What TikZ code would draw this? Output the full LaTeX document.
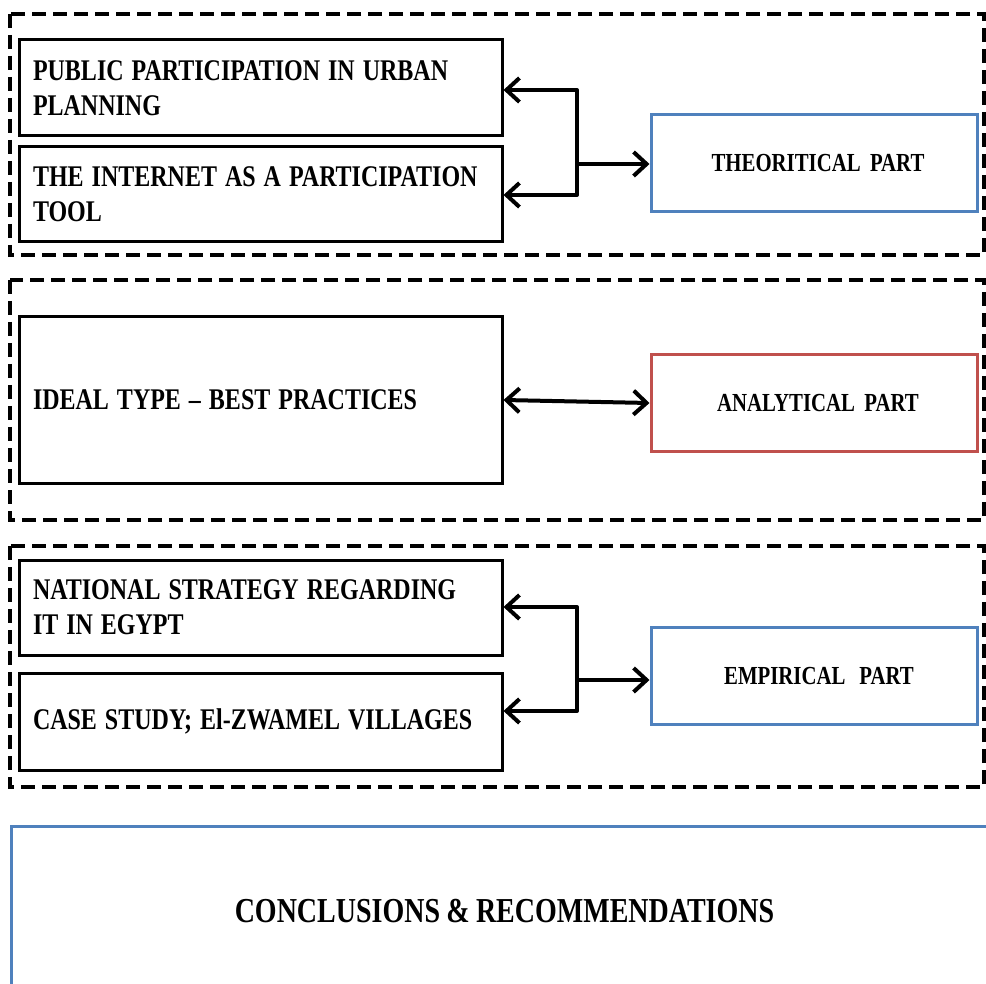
\documentclass[tikz,border=0pt]{standalone}
\usepackage{fontspec}
\newfontfamily\lbl{Liberation Serif}[FakeStretch=0.8, WordSpace=0.9, Ligatures=TeX]
\usetikzlibrary{arrows.meta}
\definecolor{partblue}{HTML}{4F81BD}
\definecolor{partred}{HTML}{C0504D}

\begin{document}
\begin{tikzpicture}[x=1pt,y=-1pt,
  >={Straight Barb[length=13pt,width=24pt]},
  group/.style={draw=black, line width=4.5pt, dash pattern=on 14pt off 7pt},
  topic/.style={draw=black, line width=3pt, minimum width=483pt, text width=455pt,
    inner xsep=14pt, inner ysep=0pt, align=left,
    font=\lbl\bfseries\fontsize{30}{35}\selectfont,
    execute at begin node={\spaceskip=8pt\relax}},
  part/.style={draw=#1, line width=3pt, minimum width=326pt, minimum height=97pt,
    inner sep=0pt, font=\lbl\bfseries\fontsize{26}{30}\selectfont},
  link/.style={line width=4pt, ->, line join=round}
]
\useasboundingbox (0,0) rectangle (986,984);
\clip (0,0) rectangle (986,984);

% dashed group frames
\draw[group] (10,14) rectangle (984,255);
\draw[group] (10,280) rectangle (984,520);
\draw[group] (10,546) rectangle (984,787);

% topic boxes
\node[topic, minimum height=96pt] (b1) at (260.5,88)
  {PUBLIC PARTICIPATION IN URBAN\\PLANNING};
\node[topic, minimum height=95pt] (b2) at (260.5,194.5)
  {THE INTERNET AS A PARTICIPATION\\TOOL};
\node[topic, minimum height=166pt] (b3) at (260.5,400)
  {IDEAL TYPE – BEST PRACTICES};
\node[topic, minimum height=95pt] (b4) at (260.5,607.5)
  {NATIONAL STRATEGY REGARDING\\IT IN EGYPT};
\node[topic, minimum height=97pt] (b5) at (260.5,721.5)
  {CASE STUDY; El-ZWAMEL VILLAGES};

% part boxes
\node[part=partblue] (th) at (814,163.5) {\kern8pt THEORITICAL\ \ PART};
\node[part=partred] (an) at (814,403) {\kern8pt ANALYTICAL\ \ PART};
\node[part=partblue] (em) at (814,676) {\kern10pt EMPIRICAL\ \ \ PART};

% conclusions box
\node[draw=partblue, line width=3pt, anchor=north west, minimum width=990pt,
  minimum height=170pt, inner sep=0pt,
  font=\lbl\bfseries\fontsize{35}{40}\selectfont] (co) at (10,825)
  {\kern-4pt CONCLUSIONS \& RECOMMENDATIONS};

% theoretical part connectors
\coordinate (j1) at (577,164);
\coordinate (t1) at (577,90);
\coordinate (t2) at (577,195);
\draw[link] (j1) |- (t1 -| b1.east);
\draw[link] (j1) |- (t2 -| b2.east);
\draw[link] (j1) -- (j1 -| th.west);

% analytical part connector
\draw[link, <->] (b3.east) -- (an.west);

% empirical part connectors
\coordinate (j3) at (577,680);
\coordinate (t4) at (577,607);
\coordinate (t5) at (577,711);
\draw[link] (j3) |- (t4 -| b4.east);
\draw[link] (j3) |- (t5 -| b5.east);
\draw[link] (j3) -- (j3 -| em.west);
\end{tikzpicture}
\end{document}
